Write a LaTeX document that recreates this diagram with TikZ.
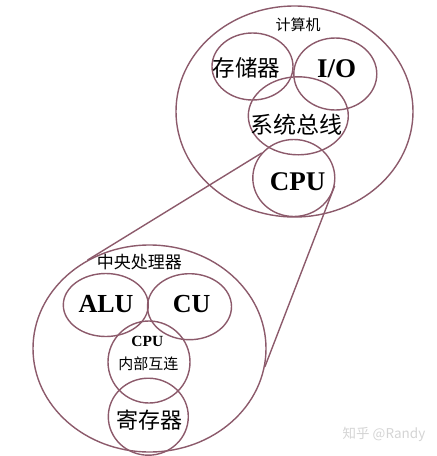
\documentclass[tikz,border=0pt]{standalone}
\usepackage{fontspec}
\setmainfont{Liberation Serif}
\newfontfamily\cjk{Noto Sans CJK SC}
\usetikzlibrary{shapes.geometric}
\definecolor{ring}{HTML}{8C5A6B}
\definecolor{wmark}{HTML}{D4D4D4}
\newcommand{\fsz}[1]{\fontsize{#1pt}{#1pt}\selectfont}
\begin{document}
\begin{tikzpicture}[x=1pt,y=-1pt,
  ringnode/.style={ellipse, draw=ring, line width=1.4pt, inner sep=0pt},
  link/.style={draw=ring, line width=1.4pt},
  cn/.style={inner sep=0pt, font=\cjk},
  en/.style={inner sep=0pt, font=\bfseries}]
\useasboundingbox (0,0) rectangle (437,456);
% top: computer
\node[ringnode, minimum width=237pt, minimum height=211pt] (comp) at (294.5,111.5) {};
\node[ringnode, minimum width=81pt, minimum height=67pt] (mem) at (252.5,66.5) {};
\node[ringnode, minimum width=83pt, minimum height=72pt] (io) at (335.3,74) {};
\node[ringnode, minimum width=100pt, minimum height=78pt] (bus) at (298.3,115.8) {};
\node[ringnode, minimum width=82pt, minimum height=77pt] (cpu) at (293.8,178) {};
% bottom: CPU detail
\node[ringnode, minimum width=233pt, minimum height=207pt] (cpubig) at (149.5,348.5) {};
\node[ringnode, minimum width=85pt, minimum height=63pt] (alu) at (105.8,305) {};
\node[ringnode, minimum width=84pt, minimum height=66pt] (cu) at (189.5,306.7) {};
\node[ringnode, minimum width=82pt, minimum height=82pt] (ic) at (149,362) {};
\node[ringnode, minimum width=80pt, minimum height=77pt] (reg) at (148.3,416.7) {};
% connectors
\draw[link] (cpu.142) -- (cpubig.125.5);
\draw[link] (cpu.-11.5) -- (cpubig.-9.2);
% labels
\node[cn, font=\cjk\fsz{15}] (tcomp) at (298,25) {计算机};
\node[cn, font=\cjk\fsz{22.5}] (tmem) at (246.7,68.3) {存储器};
\node[en, font=\bfseries\fsz{27}] (tio) at (336.7,69) {I/O};
\node[cn, font=\cjk\fsz{23}] (tbus) at (296.7,125) {系统总线};
\node[en, font=\bfseries\fsz{27}] (tcpu) at (297.7,182) {CPU};
\node[cn, font=\cjk\fsz{17}] (tcpubig) at (139.3,261.7) {中央处理器};
\node[en, font=\bfseries\fsz{26}] (talu) at (106,304) {ALU};
\node[en, font=\bfseries\fsz{26}] (tcu) at (191.7,304) {CU};
\node[en, font=\bfseries\fsz{15.5}] (tic1) at (147.3,341.7) {CPU};
\node[cn, font=\cjk\fsz{15}] (tic2) at (148.3,363.3) {内部互连};
\node[cn, font=\cjk\fsz{22}] (treg) at (149,420) {寄存器};
\node[cn, font=\cjk\fsz{13.5}, text=wmark] (wm) at (384,434) {知乎 @Randy};
\end{tikzpicture}
\end{document}
